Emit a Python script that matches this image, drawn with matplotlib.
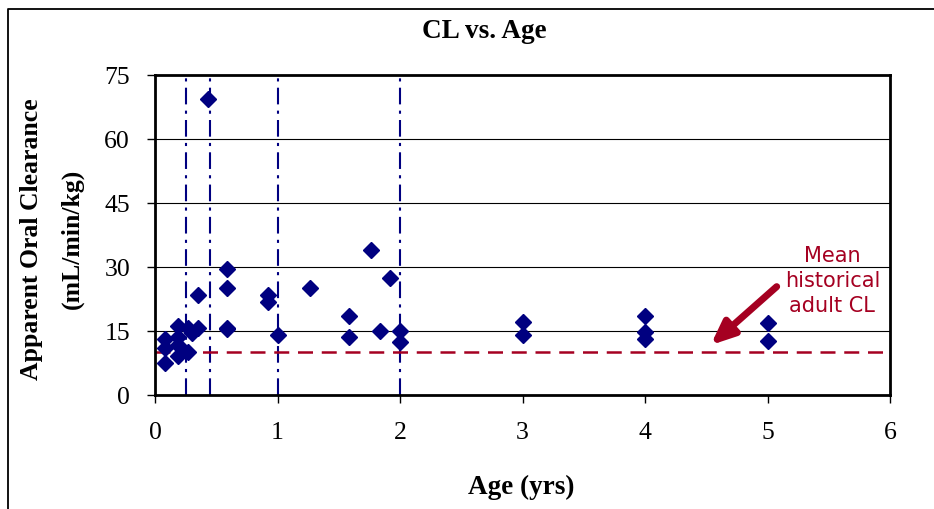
import matplotlib
matplotlib.use("Agg")
import matplotlib.pyplot as plt
from matplotlib.lines import Line2D

# ---- data ----
age = [0.08, 0.08, 0.08, 0.19, 0.19, 0.19, 0.19, 0.27, 0.27, 0.30, 0.35, 0.35,
       0.43, 0.59, 0.59, 0.59, 0.59, 0.925, 0.925, 1.0, 1.265, 1.58, 1.58,
       1.76, 1.84, 1.92, 2.0, 2.0, 3, 3, 4, 4, 4, 5, 5]
cl = [13.1, 11.1, 7.6, 16.2, 13.5, 11.7, 9.2, 15.8, 10.0, 14.5, 15.6, 23.5,
      69.3, 29.6, 25.0, 15.8, 15.5, 23.5, 21.7, 14.0, 25.0, 18.5, 13.5,
      34.1, 15.0, 27.5, 15.0, 12.5, 17.1, 14.0, 18.4, 14.8, 13.1, 16.8, 12.7]
age_cutoffs = [0.25, 0.45, 1, 2]
adult_cl = 10
x_ticks = [0, 1, 2, 3, 4, 5, 6]
y_ticks = [0, 15, 30, 45, 60, 75]
title = "CL vs. Age"
xlabel = "Age (yrs)"
ylabel1 = "Apparent Oral Clearance"
ylabel2 = "(mL/min/kg)"
note = "Mean\nhistorical\nadult CL"

navy = "#000080"
red = "#A50021"
serif = ["Liberation Serif", "DejaVu Serif"]

W, H = 934, 510
fig = plt.figure(figsize=(W / 100, H / 100), dpi=100)
ax = fig.add_axes([155 / W, 1 - 396 / H, (890 - 155) / W, (396 - 76) / H])

ax.set_xlim(0, 6)
ax.set_ylim(0, 75)

# gridlines
for yv in y_ticks[1:-1]:
    ax.axhline(yv, color="black", lw=0.8, zorder=1)

# cutoff lines
for xv in age_cutoffs:
    ax.axvline(xv, color=navy, lw=1.5, dashes=(8, 3, 1.5, 3), zorder=2)

# adult CL line
ax.axhline(adult_cl, color=red, lw=1.8, dashes=(6, 3.5), zorder=2)

# data
ax.plot(age, cl, linestyle="none", marker="D", ms=8, color=navy,
        markeredgecolor=navy, zorder=4, clip_on=False)

# annotation
ax.annotate("", xy=(4.536, 11.7), xytext=(5.075, 25.4),
            arrowprops=dict(arrowstyle="-|>,head_length=1.4,head_width=0.6",
                            color=red, lw=5, shrinkA=0, shrinkB=0),
            zorder=5)
ax.text(5.53, 27.0, note, color=red, fontsize=15, ha="center", va="center",
        linespacing=1.3, family=["DejaVu Sans"])

ax.set_xticks(x_ticks)
ax.set_yticks(y_ticks)
ax.tick_params(axis="both", direction="out", length=6, width=1.0,
               labelsize=18.5, color="black")
ax.tick_params(axis="x", pad=13)
ax.tick_params(axis="y", pad=12)
for lab in ax.get_xticklabels() + ax.get_yticklabels():
    lab.set_family(serif)

for sp in ax.spines.values():
    sp.set_linewidth(2)
    sp.set_color("black")

fig.text(484 / W, 1 - 32 / H, title, fontsize=19.5, fontweight="bold",
         family=serif, ha="center", va="center")
fig.text(521 / W, 1 - 487 / H, xlabel, fontsize=19.5, fontweight="bold",
         family=serif, ha="center", va="center")
fig.text(32 / W, 1 - 239 / H, ylabel1, fontsize=18.5, fontweight="bold",
         family=serif, ha="center", va="center", rotation=90)
fig.text(72 / W, 1 - 239 / H, ylabel2, fontsize=18.5, fontweight="bold",
         family=serif, ha="center", va="center", rotation=90)

# outer border (top and left visible)
fig.add_artist(Line2D([8 / W, 8 / W, 1.0], [0.0, 1 - 10 / H, 1 - 10 / H],
                      transform=fig.transFigure, color="black", lw=1.3))

fig.savefig("out.png", dpi=100, facecolor="white")
